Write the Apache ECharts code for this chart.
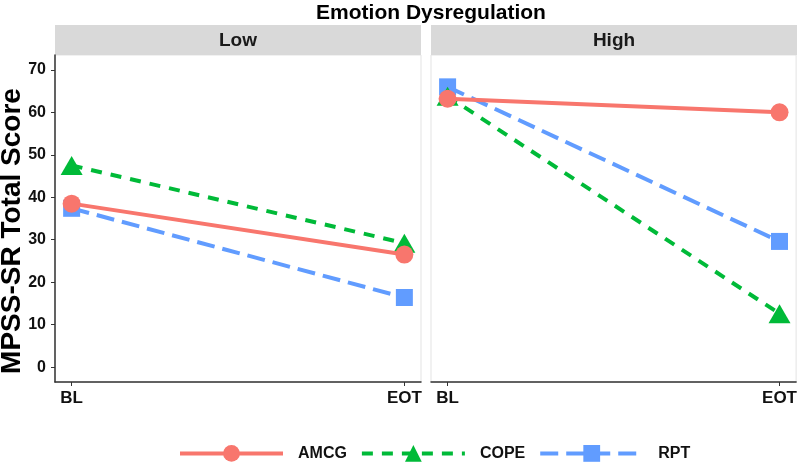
<!DOCTYPE html>
<html>
<head>
<meta charset="utf-8">
<script src="https://cdn.jsdelivr.net/npm/echarts@6/dist/echarts.min.js"></script>
<style>html,body{margin:0;padding:0;background:#fff}#c{width:800px;height:463px}</style>
</head>
<body>
<div id="c"></div>
<script>
var timepoints = ['BL', 'EOT'];
var panels = ['Low', 'High'];
var groups = ['AMCG', 'COPE', 'RPT'];
var yTicks = [0, 10, 20, 30, 40, 50, 60, 70];
var yTitle = 'MPSS-SR Total Score';
// values per panel [BL, EOT]
var amcgLow = [38.5, 26.5];
var copeLow = [47.5, 29.2];
var rptLow = [37.4, 16.4];
var amcgHigh = [63.2, 60.0];
var copeHigh = [63.8, 12.6];
var rptHigh = [66.0, 29.6];

var valuesByPanel = [
  [amcgLow, copeLow, rptLow],
  [amcgHigh, copeHigh, rptHigh]
];
var colors = ['#F8766D', '#00BA38', '#619CFF'];
var symbols = ['circle', 'triangle', 'rect'];
var symbolSizes = [18, [22, 19], 17];
var dashes = ['solid', [11, 9], [18, 8]];
var zs = [5, 4, 3];

var font = '"Liberation Sans", Arial, sans-serif';
var chart = echarts.init(document.getElementById('c'));

var grids = [
  {left: 55, right: 379, top: 55, bottom: 81, show: true, borderColor: '#E3E3E3', borderWidth: 1, backgroundColor: '#fff'},
  {left: 431, right: 3, top: 55, bottom: 81, show: true, borderColor: '#E3E3E3', borderWidth: 1, backgroundColor: '#fff'}
];
var xAxes = [0, 1].map(function (i) {
  return {
    type: 'value', gridIndex: i, min: -0.05, max: 1.05,
    axisLine: {show: true, onZero: false, lineStyle: {color: '#333', width: 1.5}},
    axisTick: {show: true, length: 4, lineStyle: {color: '#333'}, customValues: [0, 1]},
    axisLabel: {show: true, customValues: [0, 1], color: '#111', fontWeight: 'bold', fontSize: 17, fontFamily: font, margin: 8,
      formatter: function (v) { return timepoints[Math.round(v)]; }},
    splitLine: {show: false}
  };
});
var yAxes = [0, 1].map(function (i) {
  return {
    type: 'value', gridIndex: i, min: -3.5, max: 73.5,
    axisLine: {show: i === 0, onZero: false, lineStyle: {color: '#333', width: 1.5}},
    axisTick: {show: i === 0, length: 4, lineStyle: {color: '#333'}, customValues: yTicks},
    axisLabel: {show: i === 0, customValues: yTicks, color: '#111', fontWeight: 'bold', fontSize: 16, fontFamily: font, margin: 9},
    splitLine: {show: false}
  };
});

var series = [];
panels.forEach(function (p, pi) {
  groups.forEach(function (g, gi) {
    var vals = valuesByPanel[pi][gi];
    series.push({
      name: g, type: 'line', xAxisIndex: pi, yAxisIndex: pi,
      data: timepoints.map(function (t, ti) { return [ti, vals[ti]]; }),
      symbol: symbols[gi], symbolSize: symbolSizes[gi], showAllSymbol: true,
      lineStyle: {color: colors[gi], width: 4, type: dashes[gi]},
      itemStyle: {color: colors[gi]},
      z: zs[gi], animation: false, silent: true
    });
  });
});

chart.setOption({
  animation: false,
  title: {text: 'Emotion Dysregulation', left: 426, textAlign: 'center', top: -2,
    textStyle: {fontSize: 21, fontWeight: 'bold', color: '#000', fontFamily: font}},
  grid: grids, xAxis: xAxes, yAxis: yAxes, series: series,
  legend: {
    data: groups, top: 440, left: 173, itemWidth: 103, itemHeight: 21, itemGap: 13,
    lineStyle: {width: 4},
    textStyle: {fontSize: 16, fontWeight: 'bold', color: '#111', fontFamily: font, padding: [0, 0, 0, 10]}
  },
  graphic: [
    {type: 'rect', shape: {x: 55, y: 25, width: 366, height: 30}, style: {fill: '#D9D9D9'}},
    {type: 'rect', shape: {x: 431, y: 25, width: 366, height: 30}, style: {fill: '#D9D9D9'}},
    {type: 'text', x: 238, y: 41, style: {text: panels[0], fill: '#1A1A1A', font: 'bold 19px ' + font, align: 'center', verticalAlign: 'middle'}},
    {type: 'text', x: 614, y: 41, style: {text: panels[1], fill: '#1A1A1A', font: 'bold 19px ' + font, align: 'center', verticalAlign: 'middle'}},
    {type: 'text', x: 12, y: 231, rotation: Math.PI / 2, style: {text: yTitle, fill: '#000', font: 'bold 28px ' + font, align: 'center', verticalAlign: 'middle'}}
  ]
});
</script>
</body>
</html>
